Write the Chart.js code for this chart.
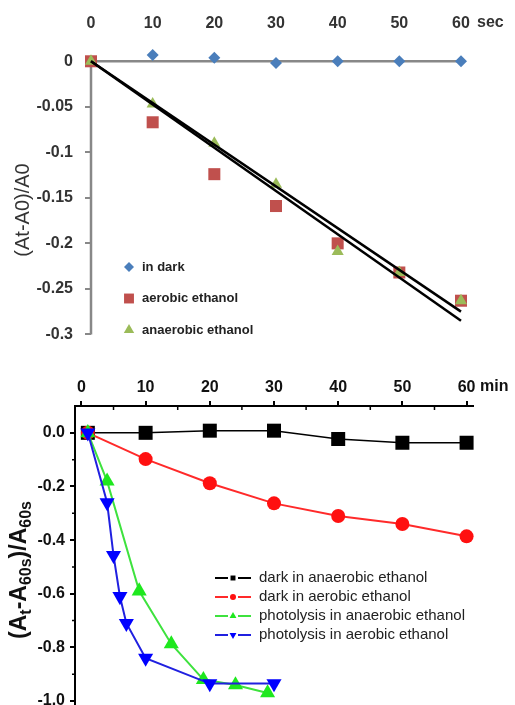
<!DOCTYPE html>
<html>
<head>
<meta charset="utf-8">
<title>Absorbance change: seconds and minutes</title>
<script src="https://cdn.jsdelivr.net/npm/chart.js@4.4.0/dist/chart.umd.min.js"></script>
<style>
    html, body { margin: 0; padding: 0; background: #fff; }
    #wrap { position: relative; width: 515px; height: 705px; overflow: hidden; }
    .panel { position: absolute; left: 0; width: 515px; overflow: hidden; }
    #panelSec { top: 0; height: 350px; }
    #panelMin { top: 350px; height: 355px; }
</style>
</head>
<body>
<div id="wrap">
    <div class="panel" id="panelSec"><canvas id="chartSec" width="515" height="356"></canvas></div>
    <div class="panel" id="panelMin"><canvas id="chartMin" width="515" height="371"></canvas></div>
</div>
<script>
// ---- top panel: time in seconds ----
const secX = [0, 10, 20, 30, 40, 50, 60];
const inDark = [0, 0.007, 0.004, -0.002, 0, 0, 0];
const aerobicEthanol = [0, -0.067, -0.124, -0.159, -0.2, -0.232, -0.263];
const anaerobicEthanol = [0, -0.047, -0.09, -0.135, -0.209, -0.232, -0.263];
const fitX = [0, 60];
const fitUpper = [0, -0.275];
const fitLower = [0, -0.285];
const secXTicks = [0, 10, 20, 30, 40, 50, 60];
const secYTicks = [0, -0.05, -0.1, -0.15, -0.2, -0.25, -0.3];

// ---- bottom panel: time in minutes ----
const darkAnaX = [1, 10, 20, 30, 40, 50, 60];
const darkAnaY = [0, 0, 0.008, 0.008, -0.023, -0.037, -0.037];
const darkAerX = [1, 10, 20, 30, 40, 50, 60];
const darkAerY = [0, -0.098, -0.188, -0.263, -0.31, -0.34, -0.386];
const photoAnaX = [1, 4, 9, 14, 19, 24, 29];
const photoAnaY = [0, -0.18, -0.59, -0.787, -0.92, -0.94, -0.97];
const photoAerX = [1, 4, 5, 6, 7, 10, 20, 30];
const photoAerY = [0, -0.26, -0.457, -0.61, -0.71, -0.84, -0.935, -0.935];
const minXTicks = [0, 10, 20, 30, 40, 50, 60];
const minXMinor = [5, 15, 25, 35, 45, 55];
const minYTicks = [0, -0.2, -0.4, -0.6, -0.8, -1.0];
const minYMinor = [-0.1, -0.3, -0.5, -0.7, -0.9];

const FONT = 'Arial, "Liberation Sans", Helvetica, sans-serif';
Chart.defaults.font.family = FONT;
Chart.defaults.animation = false;

function pts(xs, ys) {
    return xs.map((x, i) => ({ x: x, y: ys[i] }));
}

// legend drawn inside the plot area
const insideLegend = {
    id: 'insideLegend',
    afterDraw(chart, args, opts) {
        const ctx = chart.ctx;
        ctx.save();
        opts.rows.forEach((idx, i) => {
            const ds = chart.data.datasets[idx];
            const y = opts.y + i * opts.gap;
            const mx = opts.x;
            if (opts.line) {
                ctx.strokeStyle = ds.borderColor;
                ctx.lineWidth = 2;
                ctx.beginPath();
                ctx.moveTo(mx - opts.line, y);
                ctx.lineTo(mx - 5, y);
                ctx.moveTo(mx + 5, y);
                ctx.lineTo(mx + opts.line, y);
                ctx.stroke();
            }
            ctx.fillStyle = ds.pointBackgroundColor;
            ctx.strokeStyle = ds.pointBackgroundColor;
            Chart.helpers.drawPoint(ctx, {
                pointStyle: ds.pointStyle,
                rotation: ds.pointRotation || 0,
                radius: opts.radius[i],
                borderWidth: 0
            }, mx, y);
            ctx.fillStyle = opts.color;
            ctx.font = opts.font;
            ctx.textAlign = 'left';
            ctx.textBaseline = 'middle';
            ctx.fillText(ds.label, opts.textX, y);
        });
        ctx.restore();
    }
};

// unit after the last x tick + rotated y title (with subscripts)
const axisText = {
    id: 'axisText',
    afterDraw(chart, args, opts) {
        const ctx = chart.ctx;
        ctx.save();
        ctx.fillStyle = opts.color;
        ctx.font = opts.unitFont;
        ctx.textAlign = 'left';
        ctx.textBaseline = 'middle';
        ctx.fillText(opts.unit, opts.unitX, opts.unitY);

        ctx.translate(opts.titleX, opts.titleY);
        ctx.rotate(-Math.PI / 2);
        let w = 0;
        opts.title.forEach(p => {
            ctx.font = p[1] ? opts.subFont : opts.titleFont;
            w += ctx.measureText(p[0]).width;
        });
        let x = -w / 2;
        opts.title.forEach(p => {
            ctx.font = p[1] ? opts.subFont : opts.titleFont;
            ctx.fillText(p[0], x, p[1] ? opts.subShift : 0);
            x += ctx.measureText(p[0]).width;
        });
        ctx.restore();
    }
};

// axes crossing at zero (seconds panel): x axis along y = 0, y axis along x = 0
const zeroAxes = {
    id: 'zeroAxes',
    beforeDatasetsDraw(chart, args, opts) {
        const ctx = chart.ctx;
        const xs = chart.scales.x;
        const ys = chart.scales.y;
        const x0 = xs.getPixelForValue(0);
        const y0 = ys.getPixelForValue(0);
        ctx.save();
        ctx.strokeStyle = opts.color;
        ctx.lineWidth = opts.width;
        ctx.beginPath();
        ctx.moveTo(x0, y0);
        ctx.lineTo(xs.getPixelForValue(xs.max), y0);
        ctx.moveTo(x0, y0);
        ctx.lineTo(x0, ys.getPixelForValue(ys.min));
        ctx.stroke();
        ctx.restore();
    }
};

// minor tick marks for the minutes panel
const minorTicks = {
    id: 'minorTicks',
    afterDraw(chart, args, opts) {
        const ctx = chart.ctx;
        const xs = chart.scales.x;
        const ys = chart.scales.y;
        const area = chart.chartArea;
        ctx.save();
        ctx.strokeStyle = '#000';
        ctx.lineWidth = 1.5;
        ctx.beginPath();
        opts.xMinor.forEach(v => {
            const px = xs.getPixelForValue(v);
            ctx.moveTo(px, area.top);
            ctx.lineTo(px, area.top + 4);
        });
        opts.yMinor.forEach(v => {
            const py = ys.getPixelForValue(v);
            ctx.moveTo(area.left, py);
            ctx.lineTo(area.left - 3, py);
        });
        ctx.stroke();
        ctx.restore();
    }
};

// ---------- top chart ----------
new Chart(document.getElementById('chartSec'), {
    type: 'scatter',
    data: {
        datasets: [
            { label: 'fit 1', data: pts(fitX, fitUpper), showLine: true, borderColor: '#000', borderWidth: 2.5, pointRadius: 0, order: 0, clip: false },
            { label: 'fit 2', data: pts(fitX, fitLower), showLine: true, borderColor: '#000', borderWidth: 2.5, pointRadius: 0, order: 0, clip: false },
            { label: 'in dark', data: pts(secX, inDark), pointStyle: 'rectRot', pointRadius: 6, pointBackgroundColor: '#4a7ebb', pointBorderWidth: 0, order: 3, clip: false },
            { label: 'aerobic ethanol', data: pts(secX, aerobicEthanol), pointStyle: 'rect', pointRadius: 8.5, pointBackgroundColor: '#c0504d', pointBorderWidth: 0, order: 2, clip: false },
            { label: 'anaerobic ethanol', data: pts(secX, anaerobicEthanol), pointStyle: 'triangle', pointRadius: 7, pointBackgroundColor: '#9bbb59', pointBorderWidth: 0, order: 1, clip: false }
        ]
    },
    options: {
        responsive: false,
        devicePixelRatio: 1,
        layout: { padding: { left: 8, right: 54, top: 7, bottom: 11 } },
        plugins: {
            legend: { display: false },
            tooltip: { enabled: false },
            insideLegend: {
                rows: [2, 3, 4], x: 129, y: 267, gap: 31.5, textX: 142,
                radius: [5, 7, 6], font: 'bold 13px ' + FONT, color: '#222'
            },
            axisText: {
                unit: 'sec', unitX: 477, unitY: 23, unitFont: 'bold 16px ' + FONT, color: '#333',
                title: [['(At-A0)/A0', false]], titleX: 23, titleY: 210,
                titleFont: '20px ' + FONT, subFont: '12px ' + FONT, subShift: 0
            },
            zeroAxes: { color: '#888', width: 2.5 }
        },
        scales: {
            x: {
                type: 'linear', position: 'top', min: 0, max: 60,
                afterBuildTicks: (s) => { s.ticks = secXTicks.map(v => ({ value: v })); },
                afterFit: (s) => { s.height = 47; },
                grid: { display: false, drawTicks: false },
                border: { display: false },
                ticks: { padding: 21, color: '#333', font: { size: 16, weight: 'bold' } }
            },
            y: {
                type: 'linear', min: -0.3, max: 0.008,
                afterBuildTicks: (s) => { s.ticks = secYTicks.map(v => ({ value: v })); },
                afterFit: (s) => { s.width = 83; },
                grid: { display: true, drawOnChartArea: false, drawTicks: true, tickLength: 6, tickColor: '#888', color: '#888', lineWidth: 2 },
                border: { display: false },
                ticks: {
                    padding: 12, color: '#333', font: { size: 16, weight: 'bold' },
                    callback: (v) => String(+v.toFixed(2))
                }
            }
        }
    },
    plugins: [zeroAxes, insideLegend, axisText]
});

// ---------- bottom chart ----------
new Chart(document.getElementById('chartMin'), {
    type: 'scatter',
    data: {
        datasets: [
            { label: 'dark in anaerobic ethanol', data: pts(darkAnaX, darkAnaY), showLine: true, borderColor: '#000', borderWidth: 1.5,
              pointStyle: 'rect', pointRadius: 9.9, pointBackgroundColor: '#000', pointBorderWidth: 0, order: 4, clip: false },
            { label: 'dark in aerobic ethanol', data: pts(darkAerX, darkAerY), showLine: true, borderColor: '#ff2a2a', borderWidth: 2,
              pointStyle: 'circle', pointRadius: 7, pointBackgroundColor: '#ff1010', pointBorderWidth: 0, order: 3, clip: false },
            { label: 'photolysis in anaerobic ethanol', data: pts(photoAnaX, photoAnaY), showLine: true, borderColor: '#3ee23e', borderWidth: 2,
              pointStyle: 'triangle', pointRadius: 8.7, pointBackgroundColor: '#1ee81e', pointBorderWidth: 0, order: 2, clip: false },
            { label: 'photolysis in aerobic ethanol', data: pts(photoAerX, photoAerY), showLine: true, borderColor: '#2020e0', borderWidth: 2,
              pointStyle: 'triangle', pointRotation: 180, pointRadius: 8.7, pointBackgroundColor: '#0000ff', pointBorderWidth: 0, order: 1, clip: false }
        ]
    },
    options: {
        responsive: false,
        devicePixelRatio: 1,
        layout: { padding: { left: 4, right: 42, top: 28, bottom: 0 } },
        plugins: {
            legend: { display: false },
            tooltip: { enabled: false },
            insideLegend: {
                rows: [0, 1, 2, 3], x: 233, y: 228, gap: 19, textX: 259, line: 18,
                radius: [3.5, 3, 4, 4], font: '15px ' + FONT, color: '#222'
            },
            axisText: {
                unit: 'min', unitX: 480, unitY: 37, unitFont: 'bold 16px ' + FONT, color: '#111',
                title: [['(A', false], ['t', true], ['-A', false], ['60s', true], [')/A', false], ['60s', true]],
                titleX: 20, titleY: 220,
                titleFont: 'bold 23px ' + FONT, subFont: 'bold 16px ' + FONT, subShift: 7
            },
            minorTicks: { xMinor: minXMinor, yMinor: minYMinor }
        },
        scales: {
            x: {
                type: 'linear', position: 'top', min: -1, max: 61,
                afterBuildTicks: (s) => { s.ticks = minXTicks.map(v => ({ value: v })); },
                afterFit: (s) => { s.height = 28; },
                grid: { display: true, drawOnChartArea: false, drawTicks: true, tickLength: 5, color: '#000', lineWidth: 2 },
                border: { display: true, color: '#000', width: 2 },
                ticks: { padding: 4, color: '#111', font: { size: 16, weight: 'bold' } }
            },
            y: {
                type: 'linear', min: -1.02, max: 0.1,
                afterBuildTicks: (s) => { s.ticks = minYTicks.map(v => ({ value: v })); },
                afterFit: (s) => { s.width = 71; },
                grid: { display: true, drawOnChartArea: false, drawTicks: true, tickLength: 5, color: '#000', lineWidth: 2 },
                border: { display: true, color: '#000', width: 2 },
                ticks: {
                    padding: 5, color: '#111', font: { size: 16, weight: 'bold' },
                    callback: (v) => v.toFixed(1)
                }
            }
        }
    },
    plugins: [insideLegend, axisText, minorTicks]
});
</script>
</body>
</html>
